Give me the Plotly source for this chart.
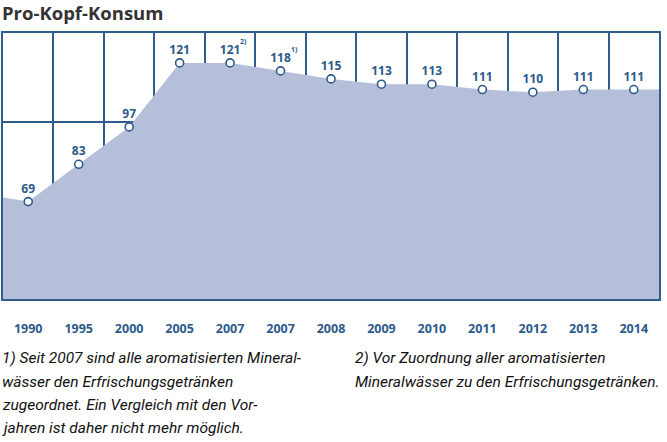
import plotly.graph_objects as go

years = ["1990", "1995", "2000", "2005", "2007", "2007", "2008", "2009", "2010", "2011", "2012", "2013", "2014"]
values = [69, 83, 97, 121, 121, 118, 115, 113, 113, 111, 110, 111, 111]
footmarks = ["", "", "", "", "2)", "1)", "", "", "", "", "", "", ""]
edge_left = 70.5
edge_right = 111

title = "Pro-Kopf-Konsum"
note1 = ["1) Seit 2007 sind alle aromatisierten Mineral-",
         "wässer den Erfrischungsgetränken",
         "zugeordnet. Ein Vergleich mit den Vor-",
         "jahren ist daher nicht mehr möglich."]
note2 = ["2) Vor Zuordnung aller aromatisierten",
         "Mineralwässer zu den Erfrischungsgetränken."]

FILL = "#b6bfda"
GRID = "#2f5d8c"
BLUE = "#2d5a8a"
FONT = "Open Sans"
NOTE_FONT = "Roboto"

n = len(years)
xs = list(range(n))
y_lo, y_hi = 32.5, 132.2

fig = go.Figure()
# area
fig.add_trace(go.Scatter(
    x=[-0.5] + xs + [n - 0.5], y=[edge_left] + values + [edge_right],
    mode="lines", line=dict(width=0, color=FILL), fill="tozeroy", fillcolor=FILL,
    hoverinfo="skip", showlegend=False))
# points
labels = [f"<b>{v}</b>" for v in values]
fig.add_trace(go.Scatter(
    x=xs, y=values, mode="markers+text", text=labels, textposition="top center",
    textfont=dict(family=FONT, size=12, color=BLUE),
    marker=dict(size=8, color="white", line=dict(color=BLUE, width=1.6)),
    showlegend=False, cliponaxis=False))

anns = []
for i, (v, m) in enumerate(zip(values, footmarks)):
    if m:
        anns.append(dict(x=i, y=v, xref="x", yref="y", text=f"<b>{m}</b>", showarrow=False,
                         font=dict(family=FONT, size=7, color=BLUE),
                         xanchor="left", yanchor="middle", xshift=8, yshift=21))

anns.append(dict(x=0, y=(299 - 13) / 266, xref="paper", yref="paper", text=f"<b>{title}</b>", showarrow=False,
                 xanchor="left", yanchor="middle", xshift=-3,
                 font=dict(family=FONT, size=18.5, color="#333333")))
ph = 266
for i, t in enumerate(note1):
    yc = [358, 382, 405, 428][i]
    anns.append(dict(x=0, y=(299 - yc) / ph, xref="paper", yref="paper", text=f"<i>{t}</i>",
                     showarrow=False, xanchor="left", yanchor="middle", xshift=-3,
                     font=dict(family=NOTE_FONT, size=15.5, color="#111111")))
for i, t in enumerate(note2):
    yc = [358, 382][i]
    anns.append(dict(x=(353 - 3) / 656, y=(299 - yc) / ph, xref="paper", yref="paper", text=f"<i>{t}</i>",
                     showarrow=False, xanchor="left", yanchor="middle",
                     font=dict(family=NOTE_FONT, size=15.5, color="#111111")))

fig.update_layout(
    width=667, height=442, margin=dict(l=3, r=8, t=33, b=143),
    paper_bgcolor="white", plot_bgcolor="white",
    annotations=anns,
    xaxis=dict(range=[-0.5, n - 0.5], tickmode="array", tickvals=xs, ticktext=[f"<b>{y}</b>" for y in years],
               tickfont=dict(family=FONT, size=12.5, color=BLUE), ticks="outside", ticklen=17, tickcolor="white",
               showgrid=False, zeroline=False, showline=True, linecolor=GRID, linewidth=1.5, mirror=True,
               layer="above traces",
               minor=dict(tickmode="linear", tick0=0.5, dtick=1, showgrid=True, gridcolor=GRID, gridwidth=1.5, ticks="")),
    yaxis=dict(range=[y_lo, y_hi], tickmode="linear", tick0=y_lo, dtick=(y_hi - y_lo) / 3,
               showticklabels=False, showgrid=True, gridcolor=GRID, gridwidth=1.5, zeroline=False,
               showline=True, linecolor=GRID, linewidth=1.5, mirror=True, layer="above traces"),
)
fig.write_html("out.html", config={"displayModeBar": False},
               post_script="document.body.style.margin='0';document.body.style.overflow='hidden';")
